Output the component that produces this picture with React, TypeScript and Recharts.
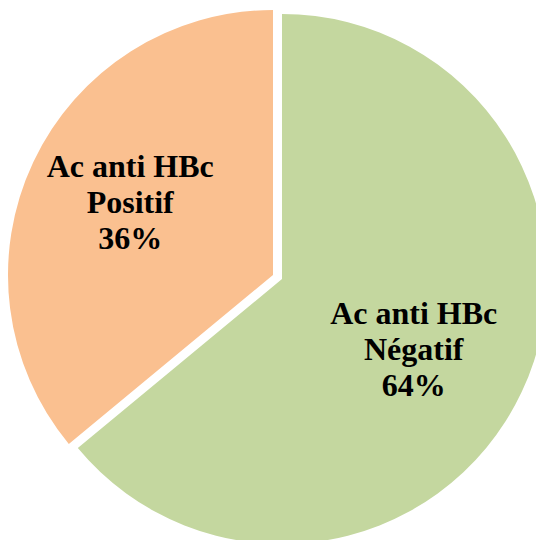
import React from "react";
import { PieChart, Pie, Cell } from "recharts";

const statusLine1 = ["Ac anti HBc", "Ac anti HBc"];
const statusLine2 = ["Négatif", "Positif"];
const percentages = [64, 36];
const colors = ["#C4D79F", "#FAC090"];

const data = percentages.map((v, i) => ({
  name: `${statusLine1[i]} ${statusLine2[i]}`,
  value: v,
  line1: statusLine1[i],
  line2: statusLine2[i],
}));

const makeLabel = (which: number, labelRadius: number, nx: number, ny: number) => (props: any) => {
  const { cx, cy, midAngle, index, percent } = props;
  if (index !== which) return null;
  const RAD = Math.PI / 180;
  const x = cx + labelRadius * Math.cos(-midAngle * RAD) + nx;
  const y = cy + labelRadius * Math.sin(-midAngle * RAD) + ny;
  const d = data[index];
  return (
    <text
      x={x}
      y={y}
      textAnchor="middle"
      dominantBaseline="central"
      style={{ fontFamily: "'Liberation Serif', 'Times New Roman', serif", fontWeight: 700, fontSize: 32 }}
      fill="#000"
    >
      <tspan x={x} y={y - 36}>{d.line1}</tspan>
      <tspan x={x} y={y}>{d.line2}</tspan>
      <tspan x={x} y={y + 36}>{`${Math.round(percent * 100)}%`}</tspan>
    </text>
  );
};

export default function App() {
  return (
    <div style={{ position: "fixed", left: 0, top: 0, width: 536, height: 540, background: "#fff" }}>
      <PieChart width={536} height={540} margin={{ top: 0, right: 0, bottom: 0, left: 0 }}>
        <Pie
          data={data}
          dataKey="value"
          cx={282}
          cy={279}
          outerRadius={265}
          startAngle={90}
          endAngle={-270}
          stroke="none"
          labelLine={false}
          label={makeLabel(0, 150, -4, 6)}
          isAnimationActive={false}
        >
          <Cell fill={colors[0]} />
          <Cell fill="transparent" />
        </Pie>
        <Pie
          data={data}
          dataKey="value"
          cx={273}
          cy={275}
          outerRadius={265}
          startAngle={90}
          endAngle={-270}
          stroke="none"
          labelLine={false}
          label={makeLabel(1, 160, 2, -5)}
          isAnimationActive={false}
        >
          <Cell fill="transparent" />
          <Cell fill={colors[1]} />
        </Pie>
      </PieChart>
    </div>
  );
}
